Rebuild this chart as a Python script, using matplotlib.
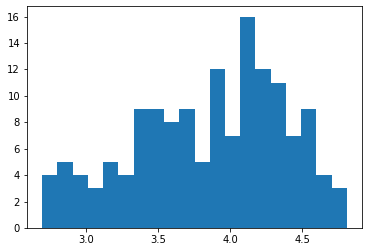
import numpy as np
import matplotlib
matplotlib.use("Agg")
import matplotlib.pyplot as plt

# histogram counts, 20 equal bins
counts = [4, 5, 4, 3, 5, 4, 9, 9, 8, 9, 5, 12, 7, 16, 12, 11, 7, 9, 4, 3]
bin_lo = 2.694
bin_hi = 4.81

edges = np.linspace(bin_lo, bin_hi, len(counts) + 1)
centers = (edges[:-1] + edges[1:]) / 2

fig = plt.figure(figsize=(372 / 72, 252 / 72), dpi=72)
ax = fig.add_axes([27 / 372, 24 / 252, 335 / 372, 222 / 252])
ax.hist(centers, bins=edges, weights=counts, color="#1f77b4",
        histtype="stepfilled")
ax.set_yticks(range(0, 17, 2))
ax.set_xticks([3.0, 3.5, 4.0, 4.5])

fig.savefig("out.png", dpi=72, facecolor="white")
